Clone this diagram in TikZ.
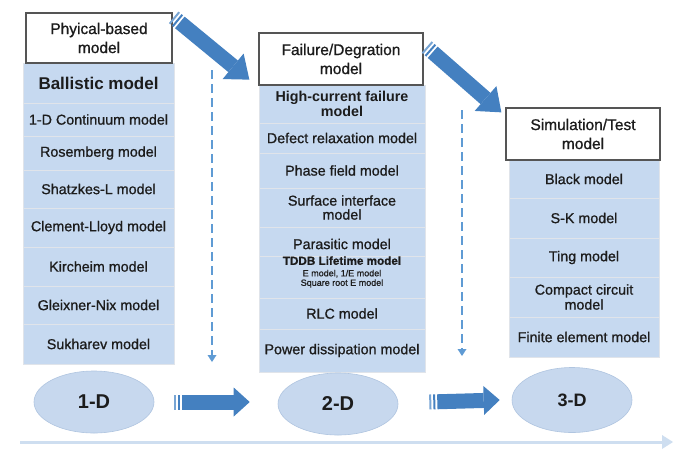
\documentclass[tikz,border=0pt]{standalone}
\usepackage{fontspec}
\setmainfont{Liberation Sans}
\newfontfamily\medsans{Liberation Sans}[FakeBold=0.9]
\usetikzlibrary{arrows.meta,calc,shapes.geometric}
\definecolor{arrowblue}{RGB}{68,128,192}
\definecolor{stripeblue}{RGB}{120,165,212}
\definecolor{boxblue}{RGB}{198,217,240}
\definecolor{sepline}{RGB}{224,228,234}
\definecolor{ellblue}{RGB}{199,216,238}
\definecolor{ellline}{RGB}{176,197,224}
\definecolor{dashblue}{RGB}{95,155,212}
\definecolor{timeblue}{RGB}{206,222,240}
\definecolor{hdrline}{RGB}{85,85,85}
\definecolor{txt}{RGB}{28,28,28}
\newcommand\rowfont{\medsans\fontsize{14.3}{15}\selectfont}
\newcommand\stripedflow[3]{%
  \draw[stripe, draw=stripeblue] (#1) -- ($(#1)!2pt!(#2)$);
  \draw[stripe] ($(#1)!4pt!(#2)$) -- ($(#1)!6pt!(#2)$);
  \draw[#3] ($(#1)!8pt!(#2)$) -- (#2);}
\begin{document}
\begin{tikzpicture}[x=1pt,y=-1pt,
  every node/.style={text=txt, inner sep=0pt},
  rowbox/.style={rectangle, fill=boxblue, draw=sepline, line width=0.8pt, align=center, font=\rowfont},
  rowtext/.style={align=center, font=\rowfont},
  hdrbox/.style={rectangle, fill=white, draw=hdrline, line width=1.3pt, align=center, font=\medsans\fontsize{15.5}{19}\selectfont},
  stage/.style={ellipse, fill=ellblue, draw=ellline, line width=0.6pt, font=\bfseries\fontsize{20}{22}\selectfont, minimum width=120pt, minimum height=62pt},
  stripe/.style={draw=arrowblue, line width=15pt},
  diagflow/.style={draw=arrowblue, line width=15pt, -{Triangle[width=33pt,length=21pt,line width=0pt]}},
  sideflow/.style={draw=arrowblue, line width=15pt, -{Triangle[width=29pt,length=16pt,line width=0pt]}},
  dasharrow/.style={draw=dashblue, line width=2.6pt, dash pattern=on 9pt off 5pt, -{Triangle[width=9pt,length=7pt,line width=0pt]}},
  timeline/.style={draw=timeblue, line width=3pt, -{Triangle[width=14pt,length=11pt,line width=0pt]}}
]
\useasboundingbox (0,0) rectangle (676,448);
\fill[white] (0,0) rectangle (676,448);

% ---------- column 1 ----------
\node[rowbox, minimum width=151pt, minimum height=40pt, font=\bfseries\fontsize{17}{19}\selectfont] (c1a) at (98.5,83) {Ballistic model};
\node[rowbox, minimum width=151pt, minimum height=33pt] (c1b) at (98.5,119.5) {1-D Continuum model};
\node[rowbox, minimum width=151pt, minimum height=34pt] (c1c) at (98.5,153) {Rosemberg model};
\node[rowbox, minimum width=151pt, minimum height=38pt] (c1d) at (98.5,189) {Shatzkes-L model};
\node[rowbox, minimum width=151pt, minimum height=39pt] (c1e) at (98.5,227.5) {Clement-Lloyd model};
\node[rowbox, minimum width=151pt, minimum height=39pt] (c1f) at (98.5,266.5) {Kircheim model};
\node[rowbox, minimum width=151pt, minimum height=38pt] (c1g) at (98.5,305) {Gleixner-Nix model};
\node[rowbox, minimum width=151pt, minimum height=40pt] (c1h) at (98.5,344) {Sukharev model};
\node[hdrbox, minimum width=146pt, minimum height=50pt] (h1) at (99,38) {Phyical-based\\model};

% ---------- column 2 ----------
\node[rowbox, minimum width=166pt, minimum height=38pt, font=\bfseries\fontsize{14.3}{14.5}\selectfont] (c2a) at (342,104) {High-current failure\\model};
\node[rowbox, minimum width=166pt, minimum height=30pt] (c2b) at (342,138) {Defect relaxation model};
\node[rowbox, minimum width=166pt, minimum height=35pt] (c2c) at (342,170.5) {Phase field model};
\node[rowbox, minimum width=166pt, minimum height=39pt, font=\medsans\fontsize{14.3}{14}\selectfont] (c2d) at (342,207.5) {Surface interface\\model};
\node[rowbox, minimum width=166pt, minimum height=29pt] (c2e) at (342,241.5) {};
\node[rowtext] (c2et) at ($(c2e)+(0,2.5)$) {Parasitic model};
\node[rowbox, minimum width=166pt, minimum height=42pt] (c2f) at (342,277) {};
\node[rowtext, font=\medsans\fontsize{9}{9.5}\selectfont] (c2ft) at ($(c2f)+(0,-5)$) {{\bfseries\fontsize{11.7}{12}\selectfont TDDB Lifetime model}\\[2pt]E model, 1/E model\\Square root E model};
\node[rowbox, minimum width=166pt, minimum height=31pt] (c2g) at (342,313.5) {RLC model};
\node[rowbox, minimum width=166pt, minimum height=43pt] (c2h) at (342,350.5) {Power dissipation model};
\node[hdrbox, minimum width=164pt, minimum height=52pt] (h2) at (341,59) {Failure/Degration\\model};

% ---------- column 3 ----------
\node[rowbox, minimum width=150pt, minimum height=38pt] (c3a) at (584,179) {Black model};
\node[rowbox, minimum width=150pt, minimum height=40pt] (c3b) at (584,218) {S-K model};
\node[rowbox, minimum width=150pt, minimum height=39pt] (c3c) at (584,257.5) {Ting model};
\node[rowbox, minimum width=150pt, minimum height=40pt] (c3d) at (584,297) {Compact circuit\\model};
\node[rowbox, minimum width=150pt, minimum height=40pt] (c3e) at (584,337) {Finite element model};
\node[hdrbox, minimum width=154pt, minimum height=52pt] (h3) at (583,134) {Simulation/Test\\model};

% ---------- stages ----------
\node[stage] (e1) at (94,402) {1-D};
\node[stage] (e2) at (338,404) {2-D};
\node[stage, font=\bfseries\fontsize{18}{20}\selectfont, minimum height=65pt] (e3) at (572,400) {3-D};

% ---------- flow arrows ----------
\coordinate (a1s) at ($(h1.north east)+(1,5)$);
\coordinate (a1e) at ($(h2.south west)+(-9,-6)$);
\stripedflow{a1s}{a1e}{diagflow}
\coordinate (a2s) at ($(h2.east)+(3,-12)$);
\coordinate (a2e) at ($(h3.north west)+(-4,5)$);
\stripedflow{a2s}{a2e}{diagflow}
\coordinate (b1s) at ($(e1.east)+(20,0)$);
\coordinate (b1e) at ($(e2.west)+(-28,-2)$);
\stripedflow{b1s}{b1e}{sideflow}
\coordinate (b2s) at ($(e2.east)+(31,-2)$);
\coordinate (b2e) at ($(e3.west)+(-12,0)$);
\stripedflow{b2s}{b2e}{sideflow}

% ---------- dashed arrows ----------
\coordinate (d1s) at (212,70);
\coordinate (d1e) at (212,362);
\draw[dasharrow] (d1s) -- (d1e);
\coordinate (d2s) at (462,110);
\coordinate (d2e) at (462,356);
\draw[dasharrow] (d2s) -- (d2e);

% ---------- time line ----------
\coordinate (t1) at (20,442);
\coordinate (t2) at (673,442);
\draw[timeline] (t1) -- (t2);
\end{tikzpicture}
\end{document}
